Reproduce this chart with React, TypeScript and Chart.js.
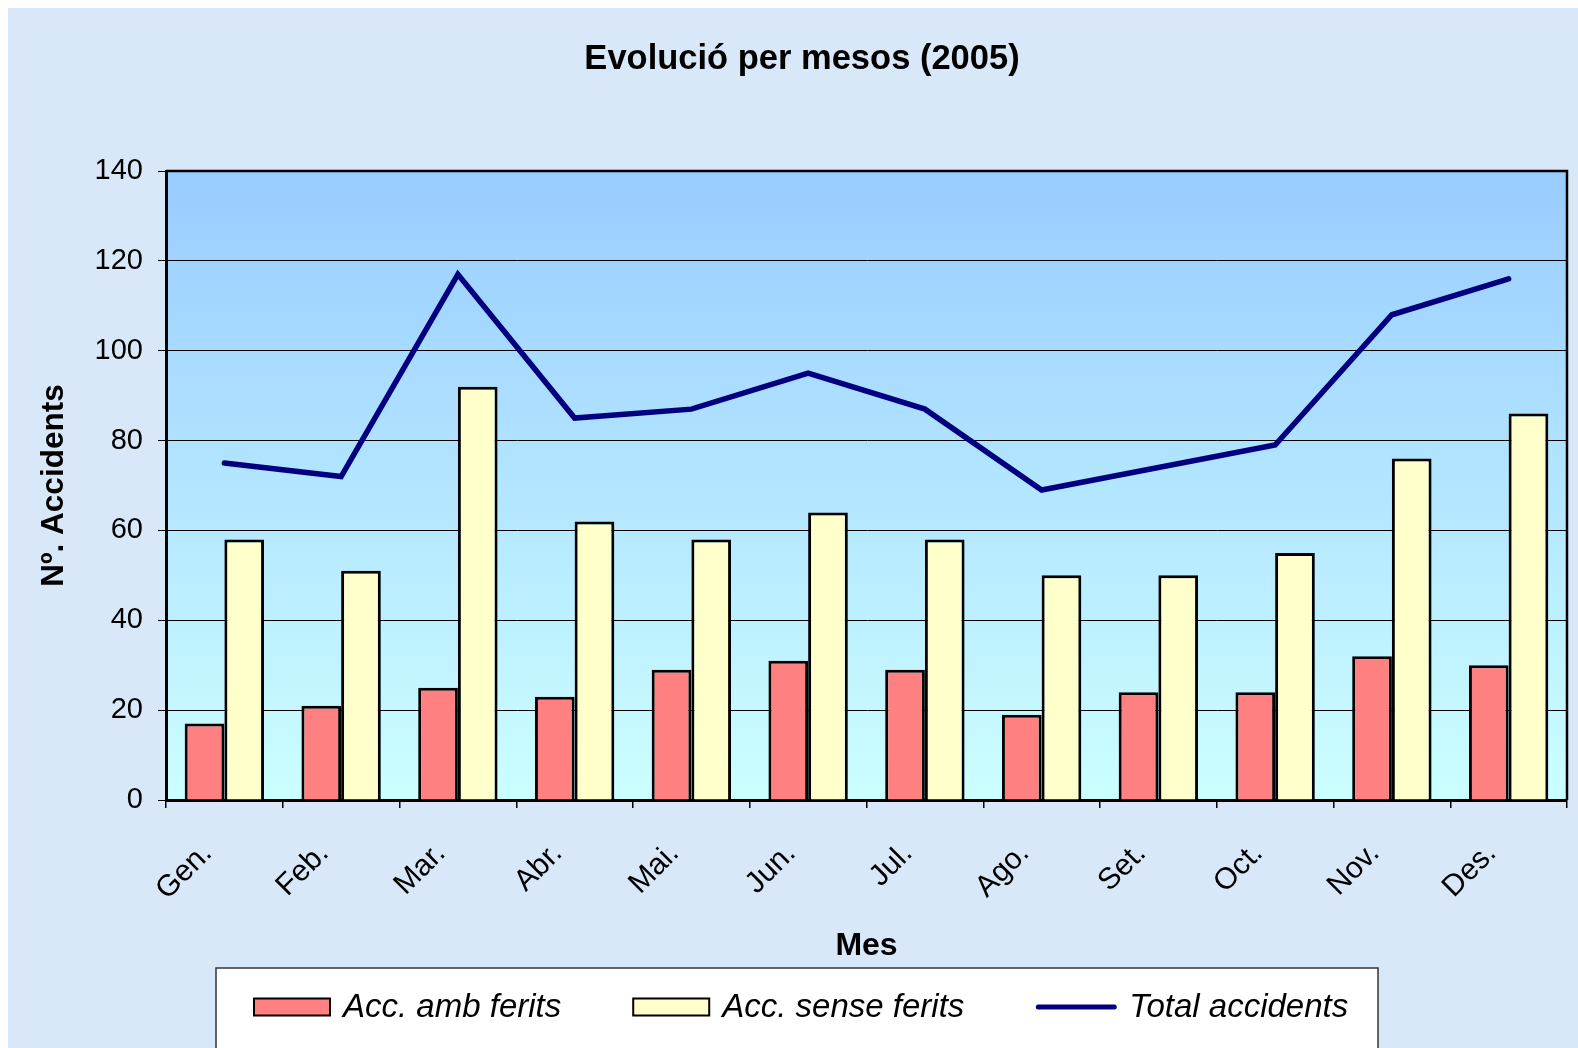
import React, { useEffect, useRef } from "react";
import { Chart, registerables } from "chart.js";

Chart.register(...registerables);

const months = ["Gen.", "Feb.", "Mar.", "Abr.", "Mai.", "Jun.", "Jul.", "Ago.", "Set.", "Oct.", "Nov.", "Des."];
const ambFerits = [17, 21, 25, 23, 29, 31, 29, 19, 24, 24, 32, 30];
const senseFerits = [58, 51, 92, 62, 58, 64, 58, 50, 50, 55, 76, 86];
const totalAccidents = [75, 72, 117, 85, 87, 95, 87, 69, 74, 79, 108, 116];
const yTicks = [0, 20, 40, 60, 80, 100, 120, 140];

const chartTitle = "Evolució per mesos (2005)";
const seriesLabels = ["Acc. amb ferits", "Acc. sense ferits", "Total accidents"];

const FONT = "'Liberation Sans', Arial, sans-serif";

const decorPlugin = {
  id: "decor",
  beforeDraw(chart: any) {
    const { ctx, chartArea: a } = chart;
    ctx.save();
    const g = ctx.createLinearGradient(0, a.top, 0, a.bottom);
    g.addColorStop(0, "#99CCFF");
    g.addColorStop(1, "#CCFFFF");
    ctx.fillStyle = g;
    ctx.fillRect(a.left, a.top, a.right - a.left, a.bottom - a.top);
    ctx.restore();
  },
  afterDraw(chart: any) {
    const { ctx, chartArea: a, width } = chart;
    ctx.save();
    // top & right border of plot area
    ctx.strokeStyle = "#000000";
    ctx.lineWidth = 2.5;
    ctx.beginPath();
    ctx.moveTo(a.left, a.top);
    ctx.lineTo(a.right, a.top);
    ctx.lineTo(a.right, a.bottom);
    ctx.stroke();

    // title
    ctx.fillStyle = "#000000";
    ctx.font = `bold 34.5px ${FONT}`;
    ctx.textAlign = "center";
    ctx.textBaseline = "middle";
    ctx.fillText(chartTitle, width / 2 + 9, 51);

    // legend box
    const lx = 208, ly = 960, lw = 1162, lh = 100;
    ctx.fillStyle = "#FFFFFF";
    ctx.fillRect(lx, ly, lw, lh);
    ctx.strokeStyle = "#333333";
    ctx.lineWidth = 1.5;
    ctx.strokeRect(lx, ly, lw, lh);

    const cy = 999;
    ctx.font = `italic 33px ${FONT}`;
    ctx.textAlign = "left";
    ctx.textBaseline = "middle";
    let x = 246;
    chart.data.datasets.forEach((ds: any) => {
      const isLine = ds.type === "line";
      const bw = isLine ? 80 : 76;
      if (isLine) {
        ctx.strokeStyle = ds.borderColor;
        ctx.lineWidth = 5;
        ctx.lineCap = "round";
        ctx.beginPath();
        ctx.moveTo(x + 2, cy);
        ctx.lineTo(x + bw - 2, cy);
        ctx.stroke();
      } else {
        ctx.fillStyle = ds.backgroundColor;
        ctx.fillRect(x, cy - 8.5, bw, 17);
        ctx.strokeStyle = "#000000";
        ctx.lineWidth = 2;
        ctx.strokeRect(x, cy - 8.5, bw, 17);
      }
      const tx = x + bw + 13;
      ctx.fillStyle = "#000000";
      ctx.fillText(ds.label, tx, cy + 1);
      x = tx + ctx.measureText(ds.label).width + 72;
    });
    ctx.restore();
  },
};

export default function App() {
  const ref = useRef<HTMLCanvasElement | null>(null);

  useEffect(() => {
    if (!ref.current) return;
    const chart = new Chart(ref.current, {
      type: "bar",
      data: {
        labels: months,
        datasets: [
          {
            type: "bar",
            label: seriesLabels[0],
            data: ambFerits,
            backgroundColor: "#FF8080",
            borderColor: "#000000",
            borderWidth: 3,
            order: 2,
          },
          {
            type: "bar",
            label: seriesLabels[1],
            data: senseFerits,
            backgroundColor: "#FFFFCC",
            borderColor: "#000000",
            borderWidth: 3,
            order: 2,
          },
          {
            type: "line",
            label: seriesLabels[2],
            data: totalAccidents,
            borderColor: "#000080",
            backgroundColor: "#000080",
            borderWidth: 5.5,
            pointRadius: 0,
            tension: 0,
            borderCapStyle: "round",
            borderJoinStyle: "miter",
            order: 1,
          } as any,
        ],
      },
      options: {
        responsive: false,
        animation: false,
        layout: { padding: { top: 163, right: 11, bottom: 80, left: 0 } },
        datasets: {
          bar: { barPercentage: 1, categoryPercentage: 0.68 },
        },
        plugins: {
          legend: { display: false },
          title: { display: false },
          tooltip: { enabled: false },
        },
        scales: {
          x: {
            offset: true,
            grid: {
              display: true,
              drawOnChartArea: false,
              offset: true,
              tickLength: 8,
              color: "#000000",
              lineWidth: 1.5,
            },
            border: { display: true, color: "#000000", width: 3 },
            ticks: {
              maxRotation: 45,
              minRotation: 45,
              padding: 28,
              labelOffset: -17,
              color: "#000000",
              font: { family: FONT, size: 30 },
            },
            title: {
              display: true,
              text: "Mes",
              color: "#000000",
              font: { family: FONT, size: 32, weight: "bold" },
              padding: { top: 0, bottom: 3 },
            },
            afterFit(scale: any) {
              scale.height = 168;
            },
          },
          y: {
            min: 0,
            max: 140,
            afterBuildTicks(scale: any) {
              scale.ticks = yTicks.map((v) => ({ value: v }));
            },
            grid: {
              color: "#000000",
              lineWidth: 1,
              tickLength: 8,
            },
            border: { display: true, color: "#000000", width: 3 },
            ticks: {
              padding: 15,
              color: "#000000",
              font: { family: FONT, size: 29 },
            },
            title: {
              display: true,
              text: "Nº. Accidents",
              color: "#000000",
              font: { family: FONT, size: 31.5, weight: "bold" },
              padding: { top: 27, bottom: 0 },
            },
            afterFit(scale: any) {
              scale.width = 158;
            },
          },
        },
      },
      plugins: [decorPlugin],
    });
    return () => chart.destroy();
  }, []);

  return (
    <div
      style={{
        position: "fixed",
        left: 8,
        top: 8,
        width: 1570,
        height: 1040,
        background: "#d8e8f9",
        overflow: "hidden",
      }}
    >
      <canvas ref={ref} width={1570} height={1040} style={{ display: "block" }} />
    </div>
  );
}
